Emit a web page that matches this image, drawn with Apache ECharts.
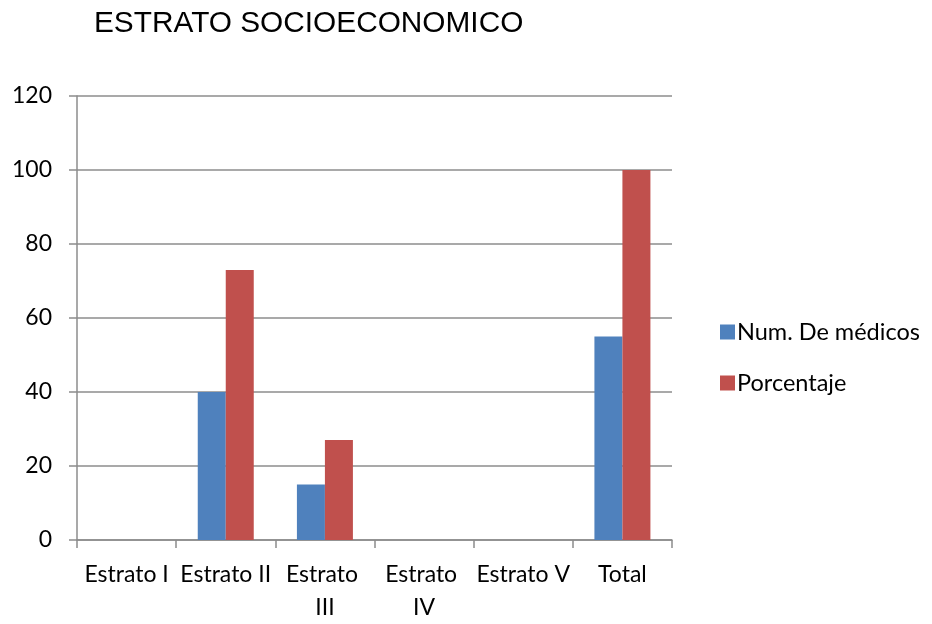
<!DOCTYPE html>
<html>
<head>
<meta charset="utf-8">
<script src="https://cdn.jsdelivr.net/npm/echarts@6/dist/echarts.min.js"></script>
<style>
    html, body { margin: 0; padding: 0; background: #fff; }
    #chart { width: 932px; height: 624px; }
</style>
</head>
<body>
<div id="chart"></div>
<script>
// datos
var categorias = ['Estrato I', 'Estrato II', 'Estrato III', 'Estrato IV', 'Estrato V', 'Total'];
var numMedicos = [0, 40, 15, 0, 0, 55];
var porcentaje = [0, 73, 27, 0, 0, 100];
var ticksY = [0, 20, 40, 60, 80, 100, 120];

var gris = '#8c8c8c';
var fuente = 'Lato';

var option = {
    backgroundColor: '#fff',
    animation: false,
    title: {
        text: 'ESTRATO SOCIOECONOMICO',
        left: 89,
        top: 4,
        textStyle: {
            fontFamily: 'Liberation Sans',
            fontSize: 29.8,
            fontWeight: 'normal',
            color: '#000'
        }
    },
    legend: {
        orient: 'vertical',
        left: 715,
        top: 315,
        itemWidth: 15,
        itemHeight: 15,
        itemGap: 27,
        icon: 'rect',
        data: ['Num. De médicos', 'Porcentaje'],
        textStyle: {
            fontFamily: fuente,
            fontSize: 23.5,
            lineHeight: 20,
            color: '#000',
            padding: [0, 0, 0, -3]
        }
    },
    grid: {
        left: 77,
        right: 260,
        top: 96,
        bottom: 82
    },
    xAxis: {
        type: 'category',
        data: categorias,
        axisLine: { lineStyle: { color: gris, width: 1.5 } },
        axisTick: { show: true, length: 8, lineStyle: { color: gris, width: 1.5 } },
        axisLabel: {
            interval: 0,
            margin: 18,
            fontFamily: fuente,
            fontSize: 23,
            lineHeight: 33,
            color: '#000',
            width: 96,
            overflow: 'break'
        }
    },
    yAxis: {
        type: 'value',
        min: ticksY[0],
        max: ticksY[ticksY.length - 1],
        interval: 20,
        axisLine: { show: true, lineStyle: { color: gris, width: 1.5 } },
        axisTick: { show: true, length: 8, lineStyle: { color: gris, width: 1.5 } },
        splitLine: { lineStyle: { color: gris, width: 1.5 } },
        axisLabel: {
            margin: 25,
            fontFamily: fuente,
            fontSize: 23,
            color: '#000'
        }
    },
    series: [
        {
            name: 'Num. De médicos',
            type: 'bar',
            data: numMedicos,
            barWidth: 28,
            barGap: '0%',
            itemStyle: { color: '#4F81BD' }
        },
        {
            name: 'Porcentaje',
            type: 'bar',
            data: porcentaje,
            barWidth: 28,
            itemStyle: { color: '#C0504D' }
        }
    ]
};

var chart = echarts.init(document.getElementById('chart'));
chart.setOption(option);
</script>
</body>
</html>
